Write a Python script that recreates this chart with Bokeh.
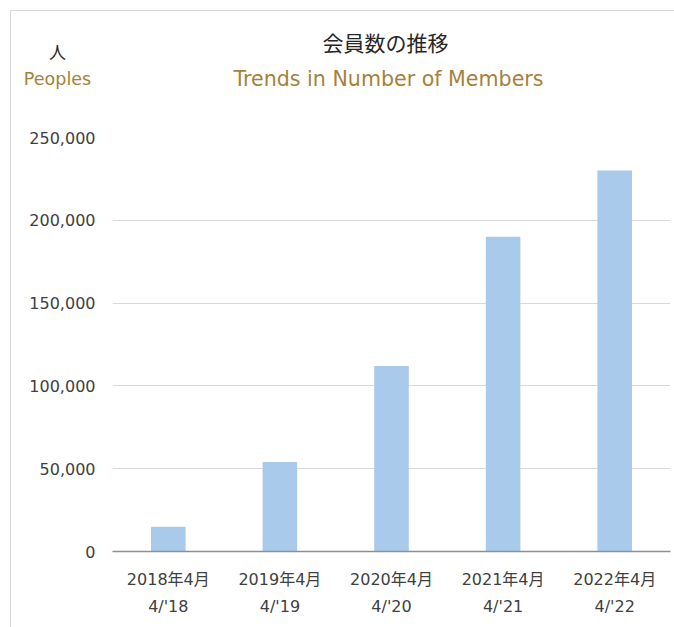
from bokeh.plotting import figure
from bokeh.layouts import column
from bokeh.models import Range1d, FixedTicker, NumeralTickFormatter
from bokeh.core.properties import value
from bokeh.embed import file_html
from bokeh.resources import INLINE

categories = ["2018年4月\n4/'18", "2019年4月\n4/'19", "2020年4月\n4/'20", "2021年4月\n4/'21", "2022年4月\n4/'22"]
members = [15000, 54000, 112000, 190000, 230000]
y_ticks = [0, 50000, 100000, 150000, 200000, 250000]
title_ja = "会員数の推移"
title_en = "Trends in Number of Members"
unit_ja = "人"
unit_en = "Peoples"

FONT = "DejaVu Sans, Noto Sans CJK JP"
GOLD = "#a5823a"
DARK = "#262626"
TXT = "#404040"
W = 663

# ---- header (titles and unit caption), pixel-like coordinates, y downward
HEAD_H = 116
head = figure(width=W, height=HEAD_H, x_range=Range1d(0, W), y_range=Range1d(HEAD_H, 0),
              x_axis_type=None, y_axis_type=None, output_backend="svg", toolbar_location=None,
              min_border=0, title=None)
if "frame_align" in head.properties():
    head.frame_align = False
head.outline_line_color = None
head.background_fill_color = "white"
head.border_fill_color = "white"
head.grid.grid_line_color = None

head.text(x=[374], y=[32], text=[title_ja], text_align="center", text_baseline="middle",
          text_font=value(FONT), text_font_size="21px", text_color=DARK)
head.text(x=[377], y=[67], text=[title_en], text_align="center", text_baseline="middle",
          text_font=value(FONT), text_font_size="20.6px", text_color=GOLD)
head.text(x=[46], y=[41], text=[unit_ja], text_align="center", text_baseline="middle",
          text_font=value(FONT), text_font_size="17px", text_color=DARK)
head.text(x=[46], y=[67], text=[unit_en], text_align="center", text_baseline="middle",
          text_font=value(FONT), text_font_size="17.5px", text_color=GOLD)

# ---- main bar chart
p = figure(x_range=categories, y_range=Range1d(0, 250000), title=None,
           width=W, height=500, output_backend="svg", toolbar_location=None,
           min_border_left=101, min_border_right=4, min_border_top=10, min_border_bottom=76)
if "frame_align" in p.properties():
    p.frame_align = False
p.outline_line_color = None
p.background_fill_color = "white"
p.border_fill_color = "white"

p.vbar(x=categories, top=members, width=0.31, color="#a9caeb", line_color=None)

p.xgrid.grid_line_color = None
p.ygrid.grid_line_color = "#d9d9d9"
p.ygrid.grid_line_width = 1

p.yaxis.ticker = FixedTicker(ticks=y_ticks)
p.yaxis.formatter = NumeralTickFormatter(format="0,0")
p.yaxis.axis_line_color = None
p.yaxis.major_tick_line_color = None
p.yaxis.minor_tick_line_color = None
p.yaxis.major_tick_out = 0
p.yaxis.major_tick_in = 0
p.yaxis.major_label_standoff = 17
p.yaxis.major_label_text_font = FONT
p.yaxis.major_label_text_font_size = "16px"
p.yaxis.major_label_text_color = TXT

p.xaxis.axis_line_color = "#8f8f8f"
p.xaxis.axis_line_width = 1.5
p.xaxis.major_tick_line_color = None
p.xaxis.major_tick_out = 0
p.xaxis.major_tick_in = 0
p.xaxis.major_label_standoff = 18
p.xaxis.major_label_text_font = FONT
p.xaxis.major_label_text_font_size = "16px"
p.xaxis.major_label_text_color = TXT
p.xaxis.major_label_text_line_height = 1.45
p.xaxis.major_label_orientation = "horizontal"

layout = column(head, p, spacing=0)
layout.styles = {"border-top": "1px solid #d9d9d9", "border-left": "1px solid #d9d9d9",
                 "margin-left": "10px", "margin-top": "10px"}

open("out.html", "w").write(file_html(layout, INLINE))
